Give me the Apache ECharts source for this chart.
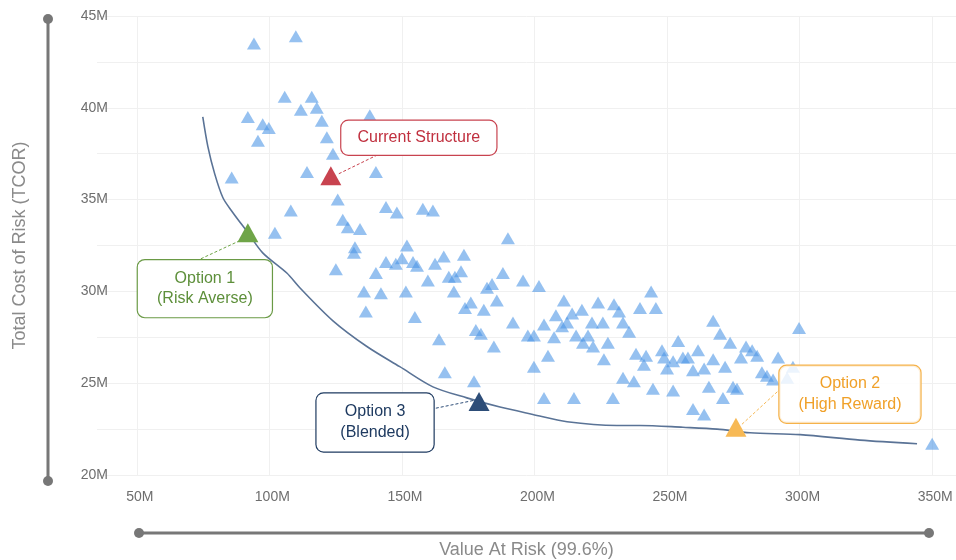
<!DOCTYPE html>
<html>
<head>
<meta charset="utf-8">
<title>TCOR vs VaR frontier</title>
<script src="https://cdn.jsdelivr.net/npm/echarts@6/dist/echarts.min.js"></script>
<style>
    html, body { margin: 0; padding: 0; background: #fff; }
    #chart { width: 956px; height: 560px; }
</style>
</head>
<body>
<div id="chart"></div>
<script>
// all values in millions
var xTicks = [50, 100, 150, 200, 250, 300, 350];

var scatterVar = [94.2, 110.0, 105.8, 116.0, 111.9, 117.9, 91.9, 97.5, 99.8, 95.7,
    119.8, 137.9, 121.7, 124.0, 85.8, 114.2, 140.2, 125.8, 108.1, 144.0,
    148.1, 157.9, 161.7, 127.7, 129.6, 134.2, 102.1, 132.3, 131.9, 125.1,
    190.0, 151.9, 144.0, 150.0, 147.7, 154.2, 155.7, 162.5, 165.8, 173.4,
    140.2, 159.8, 167.7, 170.0, 172.3, 188.1, 195.7, 201.7, 135.7, 142.1,
    151.5, 169.6, 182.1, 184.0, 185.8, 173.8, 176.0, 180.9, 136.4, 154.9,
    191.9, 203.6, 177.9, 179.8, 197.5, 199.8, 164.0, 184.7, 205.1, 166.2,
    199.8, 177.2, 203.6, 244.0, 211.1, 224.0, 230.0, 231.9, 239.8, 245.8,
    217.9, 208.1, 214.2, 221.7, 225.8, 212.3, 210.4, 233.4, 235.7, 207.4,
    215.7, 220.2, 227.7, 218.3, 222.1, 267.4, 270.0, 273.8, 254.2, 279.8,
    238.3, 242.1, 248.1, 256.0, 257.9, 261.7, 226.2, 241.3, 248.9, 252.3,
    250.0, 267.4, 259.8, 264.0, 271.9, 277.9, 233.4, 237.5, 244.7, 252.3,
    265.8, 274.9, 276.4, 271.1, 214.9, 229.6, 259.8, 264.0, 299.8, 282.1,
    284.0, 291.9, 297.5, 285.8, 287.7, 290.0, 295.3, 350.0];

var scatterTcor = [43.5, 43.9, 40.6, 40.6, 39.9, 40.0, 39.5, 39.1, 38.9, 38.2,
    39.3, 39.6, 38.4, 37.5, 36.2, 36.5, 36.5, 35.0, 34.4, 34.6,
    34.3, 34.5, 34.4, 33.9, 33.5, 33.4, 33.2, 32.4, 32.1, 31.2,
    32.9, 32.5, 31.6, 31.8, 31.5, 31.6, 31.4, 31.5, 31.9, 32.0,
    31.0, 30.6, 30.8, 30.8, 31.1, 31.0, 30.6, 30.3, 30.0, 29.9,
    30.0, 30.0, 30.2, 30.4, 29.5, 29.1, 29.4, 29.0, 28.9, 28.6,
    28.3, 28.2, 27.9, 27.7, 27.6, 27.6, 27.4, 27.0, 26.5, 25.6,
    25.9, 25.1, 24.2, 30.0, 29.5, 29.4, 29.3, 28.9, 29.1, 29.1,
    29.0, 28.7, 28.8, 28.3, 28.3, 28.3, 28.1, 28.3, 27.8, 27.5,
    27.6, 27.6, 27.2, 27.2, 27.0, 28.4, 27.7, 27.2, 27.3, 27.0,
    26.6, 26.5, 26.8, 26.4, 26.4, 26.8, 26.3, 26.0, 26.4, 26.2,
    25.8, 26.3, 25.7, 25.8, 25.9, 26.4, 25.3, 25.1, 24.7, 24.6,
    24.8, 24.8, 24.7, 24.2, 24.2, 24.2, 23.6, 23.3, 28.0, 26.8,
    26.5, 26.4, 25.9, 25.6, 25.4, 25.2, 25.3, 21.7];

var frontierVar = [74.9, 76.8, 79.4, 82.5, 86.2, 91.9, 97.5, 106.6, 111.5, 124.0,
    136.8, 149.2, 161.7, 174.5, 187.0, 199.4, 212.3, 231.1, 239.8, 256.0,
    268.9, 281.3, 300.2, 322.8, 344.3];
var frontierTcor = [39.5, 37.9, 36.4, 35.1, 34.3, 33.2, 32.1, 31.0, 30.2, 28.4,
    27.0, 25.9, 24.8, 24.2, 23.7, 23.3, 22.9, 22.7, 22.7, 22.6,
    22.5, 22.3, 22.2, 21.9, 21.7];

var optionNames = ['Current Structure', 'Option 1\n(Risk Averse)', 'Option 3\n(Blended)', 'Option 2\n(High Reward)'];
var optionVar = [123.2, 91.9, 179.1, 276.0];
var optionTcor = [36.3, 33.2, 24.0, 22.6];

// look of each highlighted structure: marker, text, callout box and leader offsets (px from marker)
var optionStyles = [
    { fill: '#c8434f', text: '#c0303f', border: '#c8434f', dx: 88, dy: -38, width: 135, lineHeight: 18,
        bg: '#fff', lineFrom: [8, -2], lineTo: [47, -21] },
    { fill: '#6fa548', text: '#5d8f3a', border: '#6a9a45', dx: -43, dy: 56, width: 114, lineHeight: 20.5,
        bg: '#fff', lineFrom: [-8, 8], lineTo: [-51, 28] },
    { fill: '#2d4d78', text: '#1e3a60', border: '#1e3a60', dx: -104, dy: 21, width: 97, lineHeight: 21,
        bg: '#fff', lineFrom: [-6, -1], lineTo: [-45, 7] },
    { fill: '#f7b955', text: '#f0a028', border: '#f5b24a', dx: 114, dy: -33, width: 121, lineHeight: 20.5,
        bg: 'rgba(255,255,255,0.82)', lineFrom: [6, -3], lineTo: [43, -37] }
];

// decorative axis bars with round end caps
var decor = [
    { type: 'line', shape: { x1: 48, y1: 19, x2: 48, y2: 481 }, style: { stroke: '#777', lineWidth: 3 } },
    { type: 'circle', shape: { cx: 48, cy: 19, r: 5 }, style: { fill: '#777' } },
    { type: 'circle', shape: { cx: 48, cy: 481, r: 5 }, style: { fill: '#777' } },
    { type: 'line', shape: { x1: 139, y1: 533, x2: 929, y2: 533 }, style: { stroke: '#777', lineWidth: 3 } },
    { type: 'circle', shape: { cx: 139, cy: 533, r: 5 }, style: { fill: '#777' } },
    { type: 'circle', shape: { cx: 929, cy: 533, r: 5 }, style: { fill: '#777' } }
];

function zip(xs, ys) {
    var out = [];
    for (let i = 0, len = xs.length; i < len; i++) {
        out.push([xs[i], ys[i]]);
    }
    return out;
}

var chart = echarts.init(document.getElementById('chart'), null, { renderer: 'canvas' });

var series = [
    {
        name: 'Structures',
        type: 'scatter',
        symbol: 'triangle',
        symbolSize: [14, 12],
        itemStyle: { color: '#4a94e6', opacity: 0.58 },
        data: zip(scatterVar, scatterTcor),
        z: 2
    },
    {
        name: 'Frontier',
        type: 'line',
        data: zip(frontierVar, frontierTcor),
        showSymbol: false,
        smooth: 0.3,
        lineStyle: { color: '#5a7396', width: 1.6 },
        z: 3
    }
];

for (let i = 0; i < optionNames.length; i++) {
    var st = optionStyles[i];
    series.push({
        name: optionNames[i],
        type: 'scatter',
        symbol: 'triangle',
        symbolSize: [21, 19],
        itemStyle: { color: st.fill, opacity: 1 },
        data: [{ name: optionNames[i], value: [optionVar[i], optionTcor[i]] }],
        z: 5,
        label: {
            show: true,
            position: 'inside',
            formatter: '{b}',
            color: st.text,
            fontSize: 16,
            lineHeight: st.lineHeight,
            width: st.width,
            align: 'center',
            verticalAlign: 'middle',
            padding: [8, 10],
            backgroundColor: st.bg,
            borderColor: st.border,
            borderWidth: 1.2,
            borderRadius: 7
        },
        labelLayout: { dx: st.dx, dy: st.dy }
    });
}

var option = {
    animation: false,
    backgroundColor: '#fff',
    textStyle: { fontFamily: 'Liberation Sans, Arial, sans-serif' },
    grid: { left: 97, right: 0, top: 16, bottom: 85, outerBoundsMode: 'none' },
    xAxis: {
        type: 'value',
        min: 35,
        max: 359,
        name: 'Value At Risk (99.6%)',
        nameLocation: 'middle',
        nameGap: 66,
        nameTextStyle: { fontSize: 18, color: '#8a8a8a' },
        axisLine: { show: false },
        axisTick: { show: false, customValues: xTicks },
        axisLabel: {
            customValues: xTicks,
            margin: 15,
            fontSize: 14,
            color: '#6e6e6e',
            padding: [0, 0, 0, 6],
            formatter: function (v) { return v + 'M'; }
        },
        splitLine: { show: true, lineStyle: { color: '#f0f0f0' } }
    },
    yAxis: {
        type: 'value',
        min: 20,
        max: 45,
        interval: 2.5,
        name: 'Total Cost of Risk (TCOR)',
        nameLocation: 'middle',
        nameGap: 68,
        nameTextStyle: { fontSize: 18, color: '#8a8a8a' },
        axisLine: { show: false },
        axisTick: { show: false },
        axisLabel: {
            margin: -11,
            fontSize: 14,
            color: '#6e6e6e',
            formatter: function (v) { return v % 5 === 0 ? v + 'M' : ''; }
        },
        splitLine: { show: true, lineStyle: { color: '#f0f0f0' } }
    },
    graphic: decor,
    series: series
};

chart.setOption(option);

// dashed leaders from each highlighted marker towards its callout box
var leaders = [];
for (let i = 0; i < optionNames.length; i++) {
    var s = optionStyles[i];
    var p = chart.convertToPixel({ gridIndex: 0 }, [optionVar[i], optionTcor[i]]);
    leaders.push({
        type: 'line',
        z: 4,
        shape: {
            x1: p[0] + s.lineFrom[0], y1: p[1] + s.lineFrom[1],
            x2: p[0] + s.lineTo[0], y2: p[1] + s.lineTo[1]
        },
        style: { stroke: s.fill, lineWidth: 1, lineDash: [3, 2] }
    });
}
chart.setOption({ graphic: decor.concat(leaders) });
</script>
</body>
</html>
